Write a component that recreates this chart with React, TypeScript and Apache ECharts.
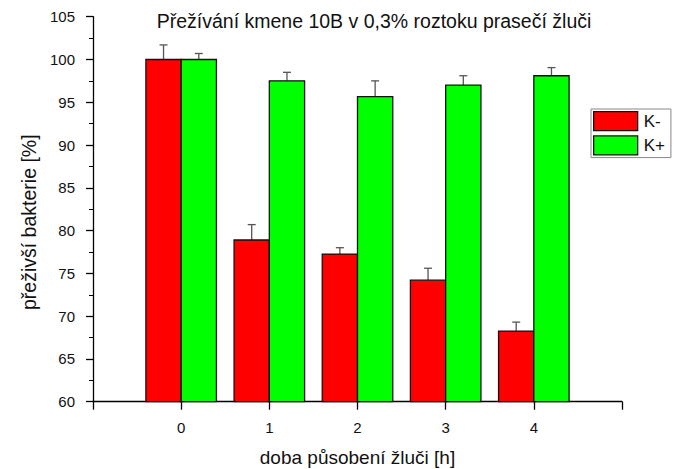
import React, { useEffect, useRef } from "react";
import * as echarts from "echarts";

const hours = [0, 1, 2, 3, 4];
const kMinus = [100, 78.9, 77.25, 74.2, 68.25];
const kMinusErr = [1.7, 1.8, 0.75, 1.4, 1.05];
const kPlus = [100, 97.5, 95.65, 97.0, 98.1];
const kPlusErr = [0.7, 1.0, 1.85, 1.1, 0.95];
const seriesNames = ["K-", "K+"];
const colors = ["#FF0000", "#00FF00"];
const titleText = "Přežívání kmene 10B v 0,3% roztoku prasečí žluči";

const BAR_W = 0.4;

function makeRender(offsetSign: number) {
  return (params: any, api: any) => {
    const x = api.value(0);
    const y = api.value(1);
    const e = api.value(2);
    const left = offsetSign < 0 ? x - BAR_W : x;
    const p0 = api.coord([left, y]);
    const p1 = api.coord([left + BAR_W, 60]);
    const cx = api.coord([left + BAR_W / 2, y]);
    const pe = api.coord([left + BAR_W / 2, y + e]);
    return {
      type: "group",
      children: [
        {
          type: "line",
          shape: { x1: cx[0], y1: cx[1], x2: pe[0], y2: pe[1] },
          style: { stroke: "#555", lineWidth: 1.3 },
        },
        {
          type: "line",
          shape: { x1: pe[0] - 4, y1: pe[1], x2: pe[0] + 4, y2: pe[1] },
          style: { stroke: "#555", lineWidth: 1.3 },
        },
        {
          type: "rect",
          shape: { x: p0[0], y: p0[1], width: p1[0] - p0[0], height: p1[1] - p0[1] },
          style: { fill: api.visual("color"), stroke: "#111", lineWidth: 1.3 },
        },
      ],
    };
  };
}

export default function App() {
  const ref = useRef<HTMLDivElement>(null);
  useEffect(() => {
    const chart = echarts.init(ref.current!, null, { renderer: "svg" });
    const font = "Liberation Sans, Arial, sans-serif";
    chart.setOption({
      animation: false,
      textStyle: { fontFamily: font },
      graphic: [
        {
          type: "text",
          x: 374,
          y: 21,
          style: {
            text: titleText,
            align: "center",
            verticalAlign: "middle",
            fontSize: 19.5,
            fill: "#111",
            fontFamily: font,
          },
        },
      ],
      grid: { left: 93, right: 52, top: 16.7, bottom: 67.3, containLabel: false, outerBoundsMode: "none" },
      legend: {
        orient: "vertical",
        left: 591,
        top: 109,
        padding: [2, 6, 2, 2],
        itemGap: 4,
        itemWidth: 44,
        itemHeight: 19,
        borderColor: "#888",
        borderWidth: 1,
        data: seriesNames.map((n) => ({
          name: n,
          icon: "rect",
          itemStyle: { borderColor: "#111", borderWidth: 1.3 },
        })),
        textStyle: { fontSize: 17, color: "#111", fontFamily: font, padding: [0, 0, 0, 1] },
      },
      xAxis: {
        type: "value",
        min: -1,
        max: 5,
        interval: 1,
        name: "doba působení žluči [h]",
        nameLocation: "middle",
        nameGap: 46,
        nameTextStyle: { fontSize: 19, color: "#111", fontFamily: font },
        axisLine: { onZero: false, lineStyle: { color: "#000", width: 1.3 } },
        axisTick: { inside: false, length: 8, lineStyle: { color: "#000", width: 1.3 } },
        axisLabel: {
          margin: 18,
          fontSize: 15,
          color: "#111",
          fontFamily: font,
          formatter: (v: number) => (hours.indexOf(v) >= 0 ? String(v) : ""),
        },
        splitLine: { show: false },
      },
      yAxis: {
        type: "value",
        min: 60,
        max: 105,
        interval: 5,
        name: "přeživší bakterie [%]",
        nameLocation: "middle",
        nameGap: 51,
        nameRotate: 90,
        nameTextStyle: { fontSize: 19.5, color: "#111", fontFamily: font, padding: [0, 0, 0, -26] },
        axisLine: { show: true, onZero: false, lineStyle: { color: "#000", width: 1.3 } },
        axisTick: { show: true, inside: false, length: 7, lineStyle: { color: "#000", width: 1.3 } },
        minorTick: { show: true, splitNumber: 2, length: 4, lineStyle: { color: "#000", width: 1 } },
        axisLabel: { margin: 18, fontSize: 15, color: "#111", fontFamily: font },
        splitLine: { show: false },
      },
      series: [
        {
          name: seriesNames[0],
          type: "custom",
          itemStyle: { color: colors[0] },
          renderItem: makeRender(-1),
          encode: { x: 0, y: 1 },
          data: hours.map((h, i) => [h, kMinus[i], kMinusErr[i]]),
        },
        {
          name: seriesNames[1],
          type: "custom",
          itemStyle: { color: colors[1] },
          renderItem: makeRender(1),
          encode: { x: 0, y: 1 },
          data: hours.map((h, i) => [h, kPlus[i], kPlusErr[i]]),
        },
      ],
    });
    return () => chart.dispose();
  }, []);
  return <div ref={ref} style={{ width: 674, height: 469, position: "absolute", left: 0, top: 0 }} />;
}
